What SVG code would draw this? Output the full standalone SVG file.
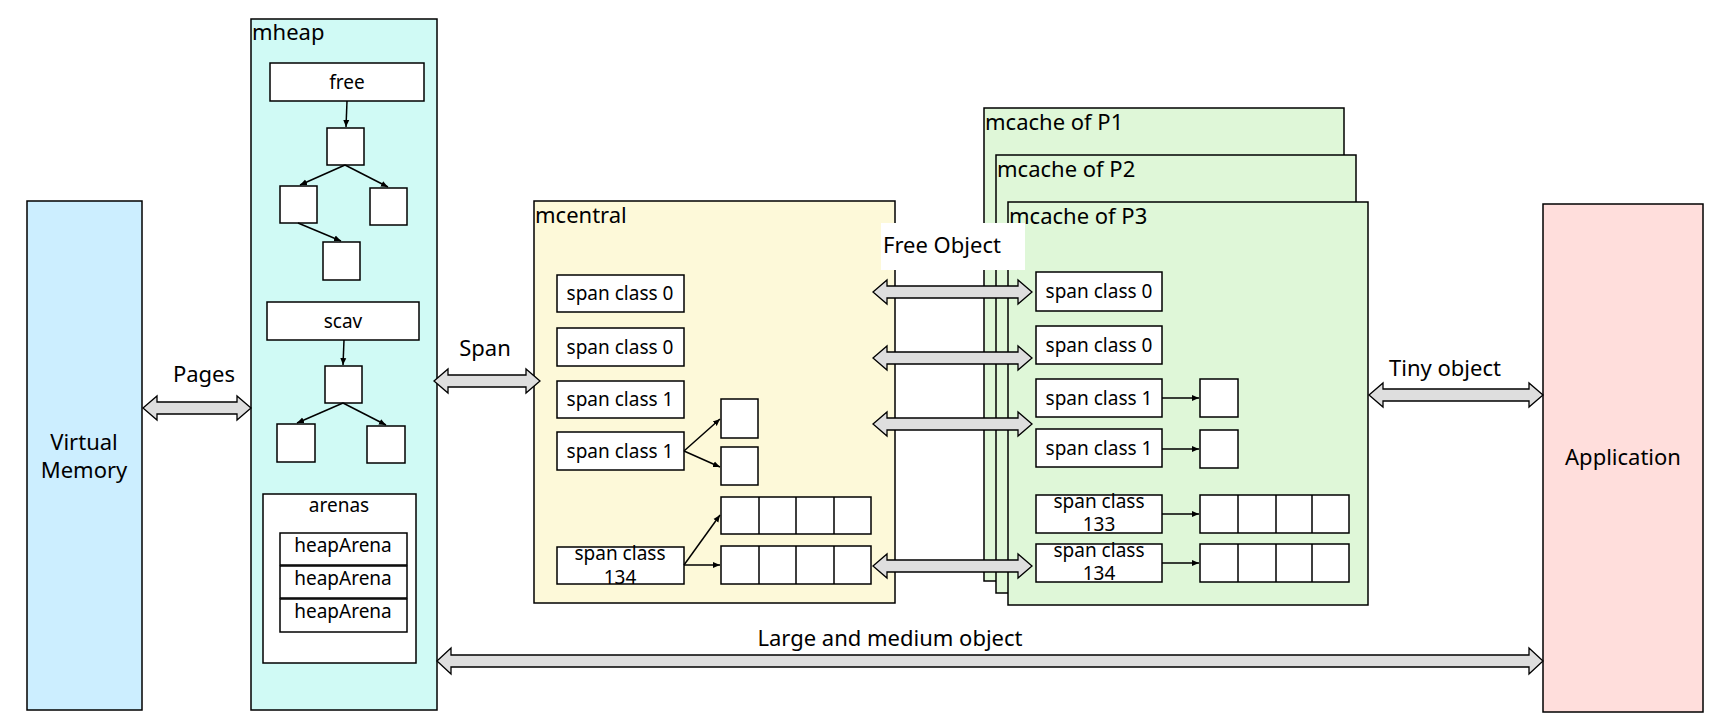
<svg xmlns="http://www.w3.org/2000/svg" width="1716" height="724" viewBox="0 0 1716 724">
<defs>
<marker id="ah" markerWidth="8" markerHeight="8" refX="7" refY="4" orient="auto" markerUnits="userSpaceOnUse"><path d="M0,1 L7,4 L0,7 Z" fill="#000"/></marker>
<style>
text{font-family:"Noto Sans","Open Sans","DejaVu Sans",sans-serif;fill:#000}
.b{fill:#fff;stroke:#000;stroke-width:1.5}
.t{font-size:19px;text-anchor:middle}
.lab{font-size:22px}
.ln{stroke:#000;stroke-width:1.5;fill:none;marker-end:url(#ah)}
.ar{fill:#dedede;stroke:#000;stroke-width:1.3}
</style>
</defs>
<rect width="1716" height="724" fill="#fff"/>
<g id="vm"><rect x="27" y="201" width="115" height="509" fill="#cceeff" stroke="#000" stroke-width="1.5"/><text class="lab" x="84" y="450" text-anchor="middle">Virtual</text><text class="lab" x="84" y="478" text-anchor="middle">Memory</text></g>
<g id="app"><rect x="1543" y="204" width="160" height="508" fill="#ffdedc" stroke="#000" stroke-width="1.5"/><text class="lab" x="1623" y="465" text-anchor="middle">Application</text></g>
<g id="mheap">
<rect x="251" y="19" width="186" height="691" fill="#d0faf5" stroke="#000" stroke-width="1.5"/>
<text class="lab" x="252" y="40">mheap</text>
<rect class="b" x="270" y="63" width="154" height="38"/><text class="t" x="347" y="89">free</text>
<rect class="b" x="327" y="128" width="37" height="37"/>
<rect class="b" x="280" y="186" width="37" height="37"/>
<rect class="b" x="370" y="188" width="37" height="37"/>
<rect class="b" x="323" y="242" width="37" height="38"/>
<rect class="b" x="267" y="302" width="152" height="38"/><text class="t" x="343" y="328">scav</text>
<rect class="b" x="325" y="366" width="37" height="37"/>
<rect class="b" x="277" y="424" width="38" height="38"/>
<rect class="b" x="367" y="426" width="38" height="37"/>
<rect class="b" x="263" y="494" width="153" height="169"/><text class="t" x="339" y="512">arenas</text>
<rect class="b" x="280" y="533" width="127" height="32"/><text class="t" x="343" y="552">heapArena</text>
<rect class="b" x="280" y="566" width="127" height="32"/><text class="t" x="343" y="585">heapArena</text>
<rect class="b" x="280" y="599" width="127" height="33"/><text class="t" x="343" y="618">heapArena</text>
</g>
<g id="mcache1"><rect x="984" y="108" width="360" height="473" fill="#dff7d8" stroke="#000" stroke-width="1.5"/><text class="lab" x="985" y="130">mcache of P1</text></g>
<g id="mcache2"><rect x="996" y="155" width="360" height="438" fill="#dff7d8" stroke="#000" stroke-width="1.5"/><text class="lab" x="997" y="177">mcache of P2</text></g>
<g id="mcentral">
<rect x="534" y="201" width="361" height="402" fill="#fdf9d9" stroke="#000" stroke-width="1.5"/>
<text class="lab" x="535" y="223">mcentral</text>
<rect class="b" x="557" y="275" width="127" height="37"/><text class="t" x="620" y="300">span class 0</text>
<rect class="b" x="557" y="328" width="127" height="38"/><text class="t" x="620" y="354">span class 0</text>
<rect class="b" x="557" y="381" width="127" height="37"/><text class="t" x="620" y="406">span class 1</text>
<rect class="b" x="557" y="432" width="127" height="38"/><text class="t" x="620" y="458">span class 1</text>
<rect class="b" x="557" y="547" width="127" height="37"/><text class="t" x="620" y="560">span class</text><text class="t" x="620" y="584">134</text>
<rect class="b" x="721" y="399" width="37" height="39"/>
<rect class="b" x="721" y="447" width="37" height="38"/>
<rect class="b" x="721" y="497" width="150" height="37"/><path d="M759,497v37M796,497v37M834,497v37" stroke="#000" stroke-width="1.5"/>
<rect class="b" x="721" y="546" width="150" height="38"/><path d="M759,546v38M796,546v38M834,546v38" stroke="#000" stroke-width="1.5"/>
</g>
<g id="mcache3">
<rect x="1008" y="202" width="360" height="403" fill="#dff7d8" stroke="#000" stroke-width="1.5"/>
<text class="lab" x="1009" y="224">mcache of P3</text>
<rect class="b" x="1036" y="272" width="126" height="39"/><text class="t" x="1099" y="298">span class 0</text>
<rect class="b" x="1036" y="326" width="126" height="38"/><text class="t" x="1099" y="352">span class 0</text>
<rect class="b" x="1036" y="379" width="126" height="38"/><text class="t" x="1099" y="405">span class 1</text>
<rect class="b" x="1036" y="429" width="126" height="38"/><text class="t" x="1099" y="455">span class 1</text>
<rect class="b" x="1036" y="495" width="126" height="38"/><text class="t" x="1099" y="508">span class</text><text class="t" x="1099" y="531">133</text>
<rect class="b" x="1036" y="544" width="126" height="38"/><text class="t" x="1099" y="557">span class</text><text class="t" x="1099" y="580">134</text>
<rect class="b" x="1200" y="379" width="38" height="38"/>
<rect class="b" x="1200" y="430" width="38" height="38"/>
<rect class="b" x="1200" y="495" width="149" height="38"/><path d="M1238,495v38M1276,495v38M1312,495v38" stroke="#000" stroke-width="1.5"/>
<rect class="b" x="1200" y="544" width="149" height="38"/><path d="M1238,544v38M1276,544v38M1312,544v38" stroke="#000" stroke-width="1.5"/>
</g>
<g id="freeobj"><rect x="881" y="223" width="144" height="47" fill="#fff"/><text class="lab" x="883" y="253">Free Object</text></g>
<g id="connectors">
<line class="ln" x1="347" y1="101" x2="346" y2="127"/>
<line class="ln" x1="345" y1="165" x2="300" y2="185"/>
<line class="ln" x1="345" y1="165" x2="388" y2="187"/>
<line class="ln" x1="298" y1="223" x2="341" y2="241"/>
<line class="ln" x1="344" y1="340" x2="343" y2="365"/>
<line class="ln" x1="343" y1="403" x2="297" y2="423"/>
<line class="ln" x1="343" y1="403" x2="386" y2="425"/>
<line class="ln" x1="684" y1="451" x2="720" y2="419"/>
<line class="ln" x1="684" y1="451" x2="720" y2="467"/>
<line class="ln" x1="684" y1="565" x2="720" y2="515"/>
<line class="ln" x1="684" y1="565" x2="720" y2="565"/>
<line class="ln" x1="1162" y1="398" x2="1199" y2="398"/>
<line class="ln" x1="1162" y1="449" x2="1199" y2="449"/>
<line class="ln" x1="1162" y1="514" x2="1199" y2="514"/>
<line class="ln" x1="1162" y1="563" x2="1199" y2="563"/>
<path class="ar" d="M143,408 L157,396 L157,402 L237,402 L237,396 L251,408 L237,420 L237,414 L157,414 L157,420 Z"/>
<path class="ar" d="M434,381 L448,369 L448,375 L526,375 L526,369 L540,381 L526,393 L526,387 L448,387 L448,393 Z"/>
<path class="ar" d="M873,292 L887,280 L887,286 L1018,286 L1018,280 L1032,292 L1018,304 L1018,298 L887,298 L887,304 Z"/>
<path class="ar" d="M873,358 L887,346 L887,352 L1018,352 L1018,346 L1032,358 L1018,370 L1018,364 L887,364 L887,370 Z"/>
<path class="ar" d="M873,424 L887,412 L887,418 L1018,418 L1018,412 L1032,424 L1018,436 L1018,430 L887,430 L887,436 Z"/>
<path class="ar" d="M873,566 L887,554 L887,560 L1018,560 L1018,554 L1032,566 L1018,578 L1018,572 L887,572 L887,578 Z"/>
<path class="ar" d="M1369,395 L1383,383 L1383,389 L1529,389 L1529,383 L1543,395 L1529,407 L1529,401 L1383,401 L1383,407 Z"/>
<path class="ar" d="M437,661 L451,648 L451,655 L1529,655 L1529,648 L1543,661 L1529,674 L1529,667 L451,667 L451,674 Z"/>
<text class="lab" x="204" y="382" text-anchor="middle">Pages</text>
<text class="lab" x="485" y="356" text-anchor="middle">Span</text>
<text class="lab" x="1445" y="376" text-anchor="middle">Tiny object</text>
<text class="lab" x="890" y="646" text-anchor="middle">Large and medium object</text>
</g>
</svg>
